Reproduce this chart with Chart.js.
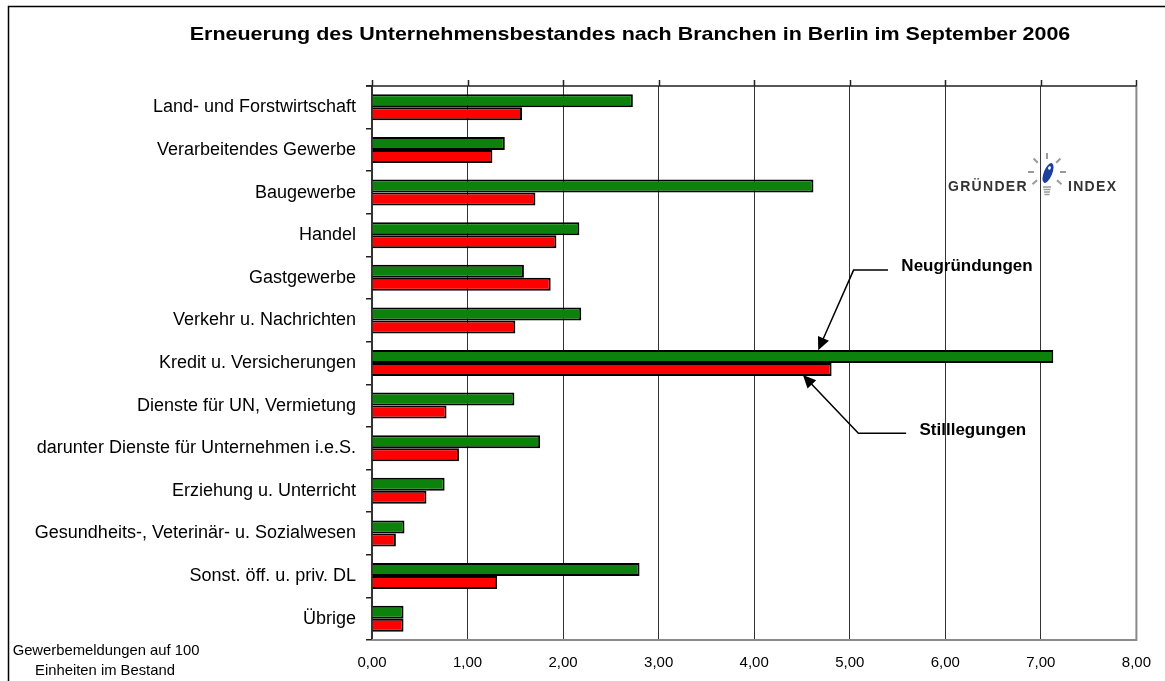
<!DOCTYPE html>
<html>
<head>
<meta charset="utf-8">
<script src="https://cdn.jsdelivr.net/npm/chart.js@4/dist/chart.umd.min.js"></script>
<style>
  html, body { margin: 0; padding: 0; background: #fff; }
  #wrap { width: 1165px; height: 681px; }
</style>
</head>
<body>
<div id="wrap"><canvas id="myChart" width="1165" height="681"></canvas></div>
<script>
// categories, top to bottom
var branchen = [
    'Land- und Forstwirtschaft',
    'Verarbeitendes Gewerbe',
    'Baugewerbe',
    'Handel',
    'Gastgewerbe',
    'Verkehr u. Nachrichten',
    'Kredit u. Versicherungen',
    'Dienste für UN, Vermietung',
    'darunter Dienste für Unternehmen i.e.S.',
    'Erziehung u. Unterricht',
    'Gesundheits-, Veterinär- u. Sozialwesen',
    'Sonst. öff. u. priv. DL',
    'Übrige'
];
// Gewerbemeldungen auf 100 Einheiten im Bestand
var neugruendungen = [2.73, 1.39, 4.62, 2.17, 1.59, 2.19, 7.13, 1.49, 1.76, 0.76, 0.34, 2.80, 0.33];
var stilllegungen  = [1.57, 1.26, 1.71, 1.93, 1.87, 1.50, 4.81, 0.78, 0.91, 0.57, 0.25, 1.31, 0.33];

var xTicks = [0, 1, 2, 3, 4, 5, 6, 7, 8];

var chartTitle = 'Erneuerung des Unternehmensbestandes nach Branchen in Berlin im September 2006';
var noteLines = ['Gewerbemeldungen auf 100', 'Einheiten im Bestand'];

// callouts in data units: [x value, category index]
var calloutNeu = { text: 'Neugründungen', label: [5.54, 3.73], path: [[5.40, 3.82], [5.04, 3.82], [4.67, 5.70]] };
var calloutStill = { text: 'Stilllegungen', label: [5.73, 7.58], path: [[5.59, 7.65], [5.09, 7.65], [4.51, 6.28]] };

var FONT = '"Liberation Sans", Arial, sans-serif';

function fmt(v) {
    return v.toFixed(2).replace('.', ',');
}

function arrowHead(ctx, x0, y0, x1, y1) {
    var a = Math.atan2(y1 - y0, x1 - x0);
    var len = 13, w = 6;
    ctx.beginPath();
    ctx.moveTo(x1, y1);
    ctx.lineTo(x1 - len * Math.cos(a) + w * Math.sin(a), y1 - len * Math.sin(a) - w * Math.cos(a));
    ctx.lineTo(x1 - len * Math.cos(a) - w * Math.sin(a), y1 - len * Math.sin(a) + w * Math.cos(a));
    ctx.closePath();
    ctx.fill();
}

function drawCallout(chart, c) {
    var ctx = chart.ctx, xs = chart.scales.x, ys = chart.scales.y;
    var pts = c.path.map(function (p) { return [xs.getPixelForValue(p[0]), ys.getPixelForValue(p[1])]; });
    ctx.save();
    ctx.strokeStyle = '#000';
    ctx.fillStyle = '#000';
    ctx.lineWidth = 1.5;
    ctx.beginPath();
    ctx.moveTo(pts[0][0], pts[0][1]);
    for (var i = 1; i < pts.length; i++) {
        // stop the line a little before the tip so the head stays sharp
        if (i === pts.length - 1) {
            var px = pts[i - 1], t = pts[i];
            var d = Math.hypot(t[0] - px[0], t[1] - px[1]);
            ctx.lineTo(t[0] - (t[0] - px[0]) * 10 / d, t[1] - (t[1] - px[1]) * 10 / d);
        } else {
            ctx.lineTo(pts[i][0], pts[i][1]);
        }
    }
    ctx.stroke();
    var n = pts.length;
    arrowHead(ctx, pts[n - 2][0], pts[n - 2][1], pts[n - 1][0], pts[n - 1][1]);
    ctx.font = 'bold 17px ' + FONT;
    ctx.textBaseline = 'middle';
    ctx.textAlign = 'left';
    ctx.fillText(c.text, xs.getPixelForValue(c.label[0]), ys.getPixelForValue(c.label[1]));
    ctx.restore();
}

function drawLogo(ctx) {
    ctx.save();
    ctx.fillStyle = '#333';
    ctx.font = 'bold 14px ' + FONT;
    ctx.textBaseline = 'middle';
    ctx.textAlign = 'left';
    ctx.letterSpacing = '1.3px';
    ctx.fillText('GRÜNDER', 948, 187);
    ctx.fillText('INDEX', 1068, 187);
    ctx.letterSpacing = '0px';
    // bulb rays
    var cx = 1047, cy = 172;
    ctx.strokeStyle = '#9a9a9a';
    ctx.lineWidth = 2;
    [-90, -45, -135, 0, 180, 40, 140].forEach(function (deg) {
        var a = deg * Math.PI / 180;
        ctx.beginPath();
        ctx.moveTo(cx + 13 * Math.cos(a), cy + 13 * Math.sin(a));
        ctx.lineTo(cx + 19 * Math.cos(a), cy + 19 * Math.sin(a));
        ctx.stroke();
    });
    // bulb base
    ctx.lineWidth = 1.5;
    for (var k = 0; k < 4; k++) {
        ctx.beginPath();
        ctx.moveTo(cx - 4 + k * 0.5, 187 + k * 2.5);
        ctx.lineTo(cx + 4 - k * 0.5, 187 + k * 2.5);
        ctx.stroke();
    }
    // the blue "i"
    ctx.fillStyle = '#1d3f9e';
    ctx.beginPath();
    ctx.ellipse(cx + 1, cy + 1, 4.2, 10.5, 22 * Math.PI / 180, 0, Math.PI * 2);
    ctx.fill();
    ctx.fillStyle = '#fff';
    ctx.beginPath();
    ctx.ellipse(cx + 2.5, cy - 4, 1.3, 1.8, 22 * Math.PI / 180, 0, Math.PI * 2);
    ctx.fill();
    ctx.restore();
}

var decorPlugin = {
    id: 'decor',
    beforeDraw: function (chart) {
        var ctx = chart.ctx;
        ctx.save();
        ctx.fillStyle = '#fff';
        ctx.fillRect(0, 0, chart.width, chart.height);
        ctx.strokeStyle = '#000';
        ctx.lineWidth = 1.5;
        ctx.strokeRect(8.5, 6.5, chart.width + 20, chart.height + 20);
        ctx.restore();
    },
    afterDraw: function (chart) {
        var ctx = chart.ctx, area = chart.chartArea, xs = chart.scales.x;
        ctx.save();
        // plot area frame: grey right + bottom
        ctx.strokeStyle = '#8a8a8a';
        ctx.lineWidth = 2;
        ctx.beginPath();
        ctx.moveTo(area.right, area.top);
        ctx.lineTo(area.right, area.bottom);
        ctx.lineTo(area.left, area.bottom);
        ctx.stroke();
        // value axis line on top with outward ticks
        ctx.strokeStyle = '#222';
        ctx.lineWidth = 1.5;
        ctx.beginPath();
        ctx.moveTo(area.left - 6, area.top);
        ctx.lineTo(area.right, area.top);
        xTicks.forEach(function (v) {
            var px = Math.round(xs.getPixelForValue(v)) + 0.5;
            ctx.moveTo(px, area.top);
            ctx.lineTo(px, area.top - 6);
        });
        ctx.stroke();
        // title (the original is a little wider than Liberation Sans Bold)
        ctx.fillStyle = '#000';
        ctx.font = 'bold 19px ' + FONT;
        ctx.textAlign = 'center';
        ctx.textBaseline = 'middle';
        ctx.save();
        ctx.translate(630, 35);
        ctx.scale(1.13, 1);
        ctx.fillText(chartTitle, 0, 0);
        ctx.restore();
        // unit note bottom-left
        ctx.font = '14.8px ' + FONT;
        ctx.fillText(noteLines[0], 106, 651);
        ctx.fillText(noteLines[1], 105, 671);
        ctx.restore();
        drawLogo(ctx);
        drawCallout(chart, calloutNeu);
        drawCallout(chart, calloutStill);
    }
};

var ctx = document.getElementById('myChart').getContext('2d');
var myChart = new Chart(ctx, {
    type: 'bar',
    data: {
        labels: branchen,
        datasets: [{
            label: 'Neugründungen',
            data: neugruendungen,
            backgroundColor: '#0c820c',
            borderColor: '#000',
            borderWidth: 2
        }, {
            label: 'Stilllegungen',
            data: stilllegungen,
            backgroundColor: '#ff0000',
            borderColor: '#000',
            borderWidth: 2
        }]
    },
    options: {
        indexAxis: 'y',
        responsive: false,
        animation: false,
        devicePixelRatio: 1,
        layout: { padding: { top: 86, right: 28, bottom: 0, left: 0 } },
        datasets: { bar: { categoryPercentage: 0.61, barPercentage: 1.0 } },
        plugins: {
            legend: { display: false },
            title: { display: false },
            tooltip: { enabled: false }
        },
        scales: {
            x: {
                position: 'bottom',
                min: 0,
                max: 8,
                afterFit: function (scale) { scale.height = 41; },
                afterBuildTicks: function (scale) {
                    scale.ticks = xTicks.map(function (v) { return { value: v }; });
                },
                ticks: {
                    padding: 14,
                    color: '#000',
                    font: { family: FONT, size: 15 },
                    callback: function (v) { return fmt(v); }
                },
                grid: { color: '#333', lineWidth: 1, drawTicks: false },
                border: { display: false }
            },
            y: {
                afterFit: function (scale) { scale.width = 372; },
                ticks: {
                    padding: 10,
                    color: '#000',
                    font: { family: FONT, size: 18 },
                    autoSkip: false
                },
                grid: { offset: true, drawOnChartArea: false, tickLength: 6, color: '#222', lineWidth: 1.5 },
                border: { display: true, color: '#333', width: 2 }
            }
        }
    },
    plugins: [decorPlugin]
});
</script>
</body>
</html>
